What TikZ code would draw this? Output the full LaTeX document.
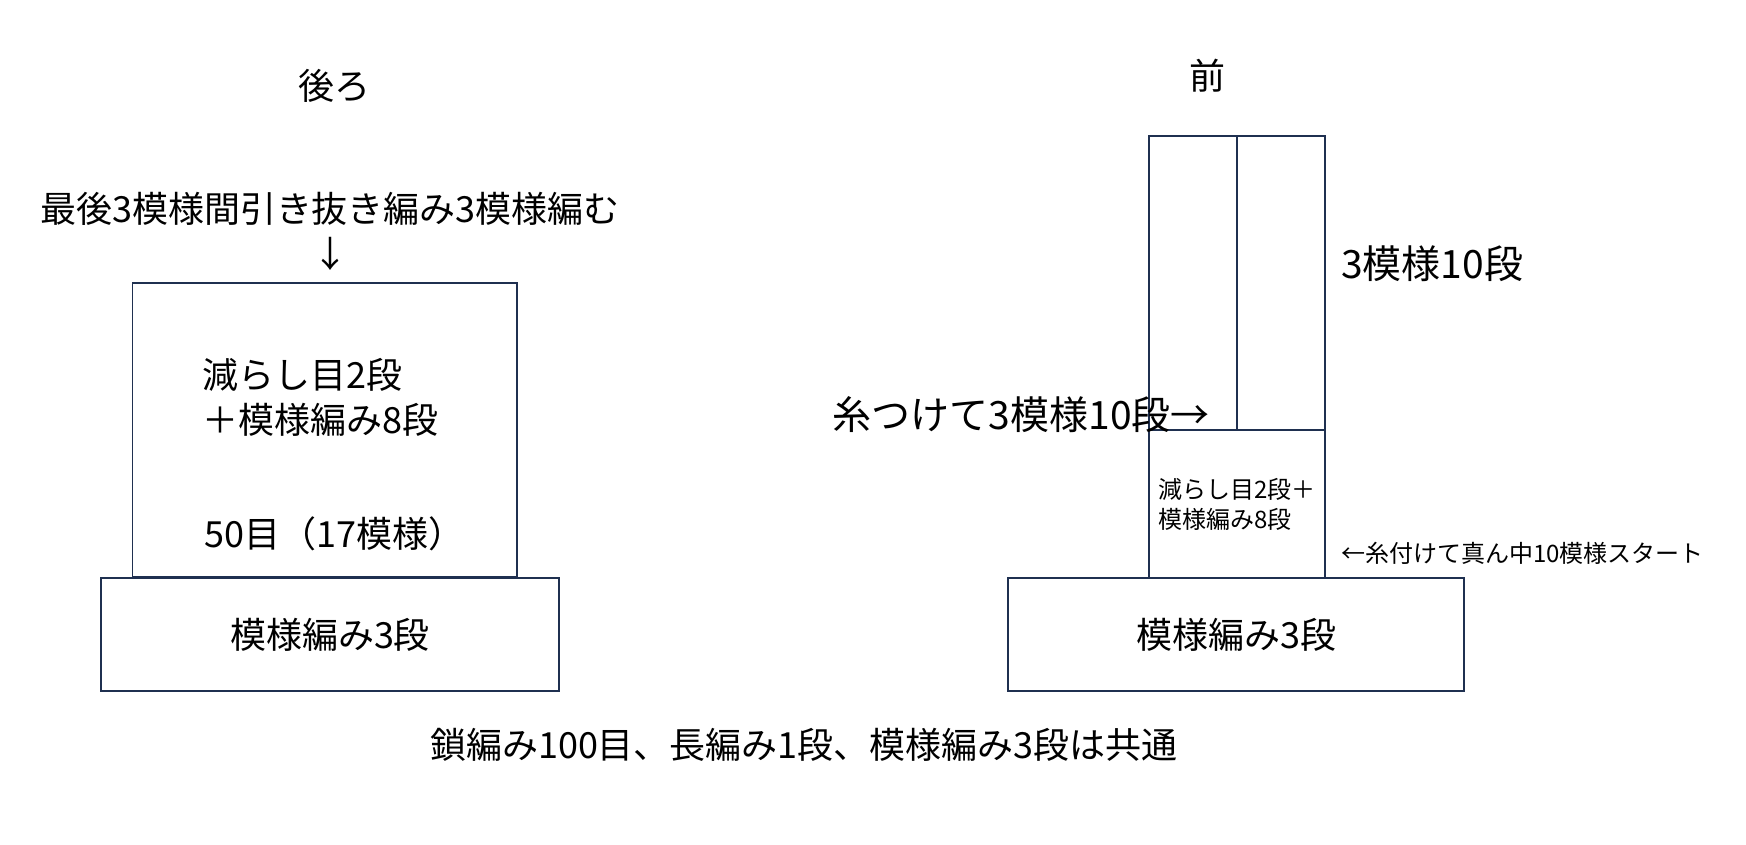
\documentclass[tikz,border=0pt]{standalone}
\usepackage{fontspec}
\setmainfont{Noto Sans CJK JP}
\usepackage{xcolor}
\definecolor{lineNavy}{RGB}{31,48,80}

\begin{document}
\begin{tikzpicture}[x=1pt,y=-1pt,
    box/.style={draw=lineNavy,line width=1.8pt,outer sep=0pt,inner sep=0pt},
    bigtext/.style={font=\fontsize{36}{45}\selectfont,inner sep=0pt},
    largetext/.style={font=\fontsize{39}{48}\selectfont,inner sep=0pt},
    smalltext/.style={font=\fontsize{24}{30}\selectfont,inner sep=0pt}]
    \useasboundingbox (0,0) rectangle (1746,845);

    % Back
    \node[bigtext] (backtitle) at (334,86) {後ろ};
    \node[bigtext,align=center] (backnote) at (330,231) {最後3模様間引き抜き編み3模様編む\\↓};
    \node[box,minimum width=384.5,minimum height=294] (backupper) at (324.75,430) {};
    \node[bigtext,align=left,anchor=west] (backrows) at (202,397.5) {減らし目2段\\＋模様編み8段};
    \node[bigtext,anchor=west] (backcount) at (204,534) {50目（17模様）};
    \node[box,bigtext,minimum width=458,minimum height=113] (backbase) at (330,634.5) {模様編み3段};

    % Front
    \node[bigtext] (fronttitle) at (1207,75.5) {前};
    \node[box,smalltext,align=left,minimum width=176,minimum height=148] (frontmid) at (1237,504) {減らし目2段＋\\模様編み8段};
    \node[box,minimum width=88,minimum height=294,anchor=south east] (frontleft) at (frontmid.north) {};
    \node[box,minimum width=88,minimum height=294,anchor=south west] (frontright) at (frontmid.north) {};
    \node[box,bigtext,minimum width=456,minimum height=113] (frontbase) at (1236,634.5) {模様編み3段};

    % Labels
    \node[largetext,anchor=west] (sidecount) at (1341,264) {3模様10段};
    \node[largetext,anchor=east] (attachnote) at (1210,415) {糸つけて3模様10段→};
    \node[smalltext,anchor=west] (startnote) at (1341,553.5) {←糸付けて真ん中10模様スタート};
    \node[bigtext] (commonnote) at (804,745) {鎖編み100目、長編み1段、模様編み3段は共通};
\end{tikzpicture}
\end{document}
